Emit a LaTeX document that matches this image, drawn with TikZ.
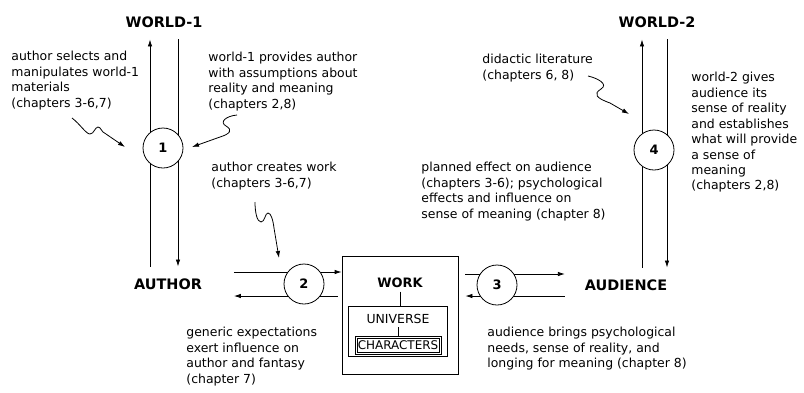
\documentclass[tikz,border=0pt]{standalone}
\usepackage{fontspec}
\setmainfont{DejaVu Sans}
\usetikzlibrary{arrows.meta}

\begin{document}
\begin{tikzpicture}[x=1bp, y=-1bp, line width=0.8pt,
  lbl/.style={font=\bfseries\fontsize{14.5}{16}\selectfont, inner sep=0pt, outer sep=12bp},
  note/.style={font=\fontsize{12.5}{15.5}\selectfont, align=left, anchor=north west, inner sep=0pt},
  num/.style={draw, circle, fill=white, minimum size=40bp, inner sep=0pt, font=\bfseries\fontsize{13}{15}\selectfont},
  arr/.style={-{Latex[length=7bp,width=4.5bp]}}]
  \useasboundingbox (0,0) rectangle (804,392);

  \node[lbl] (w1) at (164,22) {WORLD-1};
  \node[lbl] (w2) at (657,22) {WORLD-2};
  \node[lbl] (author) at (168,284) {AUTHOR};
  \node[lbl] (audience) at (626,285) {AUDIENCE};

  \node[draw, minimum width=116bp, minimum height=118bp] (work) at (400,315) {};
  \node[font=\bfseries\fontsize{13}{15}\selectfont] (wk) at (400,283) {WORK};
  \node[draw, minimum width=99bp, minimum height=50bp] (univ) at (398,331) {};
  \node[font=\fontsize{12.5}{14}\selectfont] (un) at (398,319) {UNIVERSE};
  \node[draw, line width=0.6pt, inner sep=2.8bp, minimum height=18bp, font=\fontsize{12}{14}\selectfont] (chars) at (398,345.5) {CHARACTERS};
  \draw[line width=0.5pt] ([shift={(2.2bp,-2.2bp)}]chars.north west) rectangle ([shift={(-2.2bp,2.2bp)}]chars.south east);
  \draw (wk.south) -- (wk.south |- univ.north);
  \draw (un.south) -- (un.south |- chars.north);

  \draw[arr] ([xshift=-14bp]author.north -| w1) -- ([xshift=-14bp]w1.south);
  \draw[arr] ([xshift=14bp]w1.south) -- ([xshift=14bp]w1.south |- author.north);
  \draw[arr] ([xshift=-15bp]audience.north -| w2) -- ([xshift=-15bp]w2.south);
  \draw[arr] ([xshift=10bp]w2.south) -- ([xshift=10bp]w2.south |- audience.north);

  \draw[arr, shorten <=20bp] ([yshift=12bp]author.east) -- ([yshift=12bp]author.east -| work.west);
  \draw[arr, shorten <=4bp, shorten >=20bp] ([yshift=-12bp]author.east -| work.west) -- ([yshift=-12bp]author.east);
  \draw[arr, shorten <=7bp, shorten >=8bp] ([yshift=11bp]audience.west -| work.east) -- ([yshift=11bp]audience.west);
  \draw[arr, shorten <=8bp, shorten >=7bp] ([yshift=-11bp]audience.west) -- ([yshift=-11bp]audience.west -| work.east);

  \node[num] (n1) at (163,148) {1};
  \node[num] (n2) at (304,284) {2};
  \node[num] (n3) at (497,285) {3};
  \node[num] (n4) at (654,150) {4};

  \node[note] (t1) at (11,51) {author selects and\\manipulates world-1\\materials\\(chapters 3-6,7)};
  \node[note] (t2) at (208,52) {world-1 provides author\\with assumptions about\\reality and meaning\\(chapters 2,8)};
  \node[note] (t3) at (211,162) {author creates work\\(chapters 3-6,7)};
  \node[note] (t4) at (186,327) {generic expectations\\exert influence on\\author and fantasy\\(chapter 7)};
  \node[note] (t5) at (421,162) {planned effect on audience\\(chapters 3-6); psychological\\effects and influence on\\sense of meaning (chapter 8)};
  \node[note] (t6) at (482,54) {didactic literature\\(chapters 6, 8)};
  \node[note] (t7) at (691,72) {world-2 gives\\audience its\\sense of reality\\and establishes\\what will provide\\a sense of\\meaning\\(chapters 2,8)};
  \node[note] (t8) at (487,327) {audience brings psychological\\needs, sense of reality, and\\longing for meaning (chapter 8)};

  \coordinate (q1) at (72,118);  \coordinate (p1) at (125,147);
  \coordinate (q2) at (237,115); \coordinate (p2) at (192,147);
  \coordinate (q3) at (255,202); \coordinate (p3) at (279,258);
  \coordinate (q4) at (588,76);  \coordinate (p4) at (629,114);
  \draw[arr] (q1) .. controls (80,124) and (86,134) .. (90,134) .. controls (94,134) and (95,127) .. (98,127) .. controls (101,127) and (101,132) .. (106,134) -- (p1);
  \draw[arr] (q2) .. controls (226,116) and (219,122) .. (226,126) .. controls (233,130) and (230,134) .. (220,137) -- (p2);
  \draw[arr] (q3) .. controls (255,212) and (257,222) .. (261,222) .. controls (265,222) and (265,213) .. (268,213) .. controls (271,213) and (273,220) .. (274,228) -- (p3);
  \draw[arr] (q4) .. controls (597,78) and (609,84) .. (601,89) .. controls (593,94) and (596,98) .. (610,103) -- (p4);
\end{tikzpicture}
\end{document}
